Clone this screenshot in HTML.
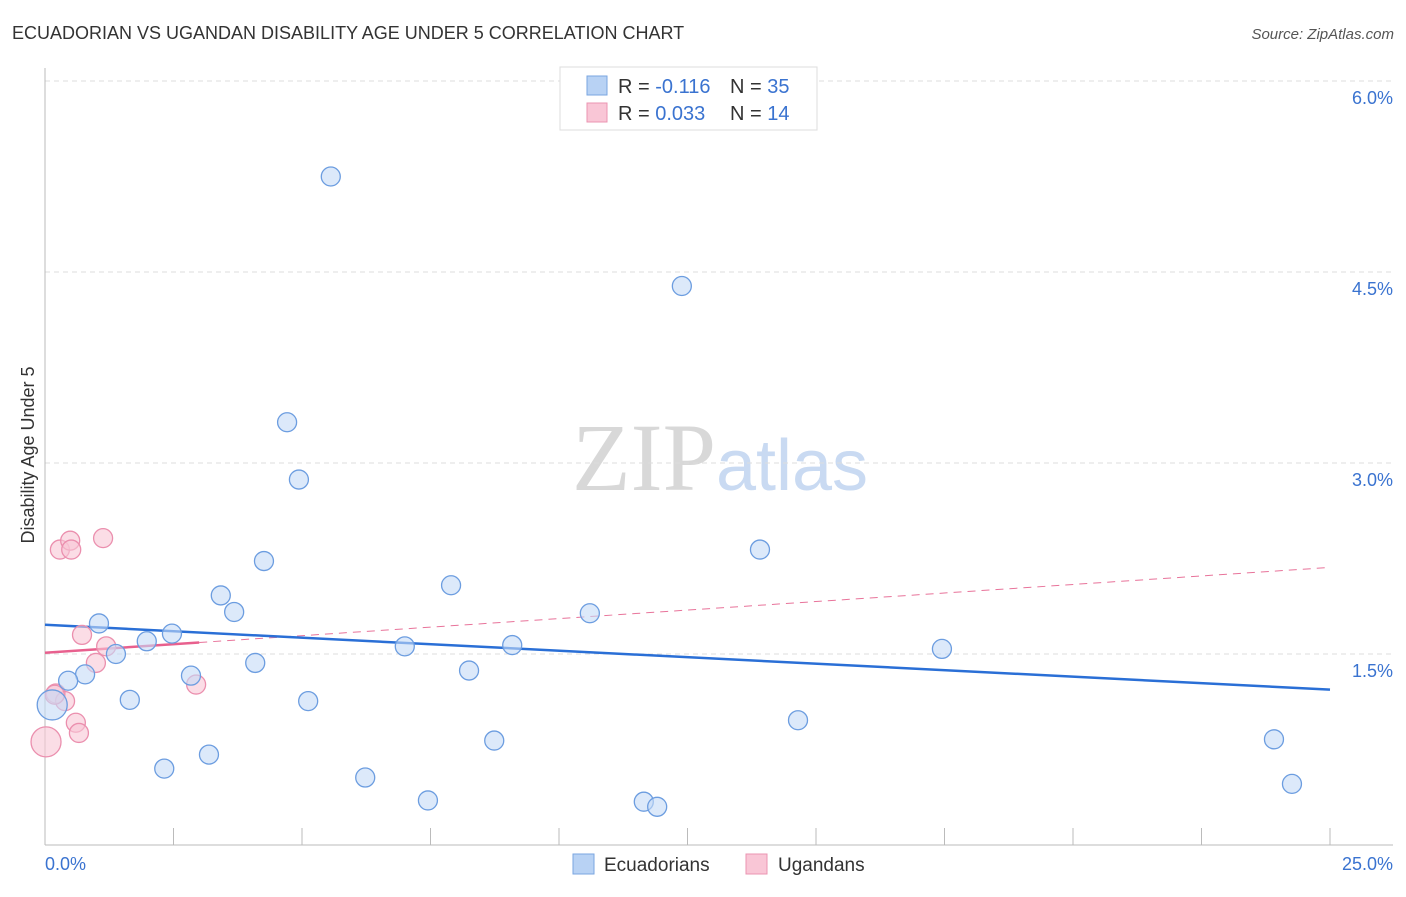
<!DOCTYPE html>
<html><head><meta charset="utf-8"><style>
body{margin:0;background:#fff;font-family:"Liberation Sans",sans-serif}
</style></head><body>
<svg id="chart" width="1406" height="892" xmlns="http://www.w3.org/2000/svg" font-family="Liberation Sans, sans-serif">
<text x="12" y="39" font-size="18" fill="#333">ECUADORIAN VS UGANDAN DISABILITY AGE UNDER 5 CORRELATION CHART</text>
<text x="1394" y="39" font-size="15" fill="#555" text-anchor="end" font-style="italic">Source: ZipAtlas.com</text>
<text x="720" y="490" font-size="96" text-anchor="middle"><tspan fill="#d8d8d8" font-family="Liberation Serif, serif">ZIP</tspan><tspan fill="#c9daf2" font-size="72">atlas</tspan></text>
<text transform="translate(34,455) rotate(-90)" font-size="18" fill="#333" text-anchor="middle">Disability Age Under 5</text>
<g id="grid"></g><g id="axes"></g><g id="lines"></g><g id="pts"></g>
<g>
<rect x="560" y="67" width="257" height="63" fill="#fff" stroke="#ddd"/>
<rect x="587" y="76" width="20" height="19" fill="#b8d2f4" stroke="#7aa6e0"/>
<rect x="587" y="103" width="20" height="19" fill="#f9c6d6" stroke="#eb94b2"/>
<text x="618" y="93" font-size="20" fill="#333">R = <tspan fill="#3a73d0">-0.116</tspan></text>
<text x="730" y="93" font-size="20" fill="#333">N = <tspan fill="#3a73d0">35</tspan></text>
<text x="618" y="120" font-size="20" fill="#333">R = <tspan fill="#3a73d0">0.033</tspan></text>
<text x="730" y="120" font-size="20" fill="#333">N = <tspan fill="#3a73d0"> 14</tspan></text>
</g>
<g>
<rect x="573" y="854" width="21" height="20" fill="#b8d2f4" stroke="#7aa6e0"/>
<text x="604" y="871" font-size="19" fill="#333">Ecuadorians</text>
<rect x="746" y="854" width="21" height="20" fill="#f9c6d6" stroke="#eb94b2"/>
<text x="778" y="871" font-size="19" fill="#333">Ugandans</text>
</g>
</svg>
<script>
const blueX=[5.56,12.39,4.71,4.94,13.91,4.26,7.90,3.42,3.68,10.60,1.05,2.47,1.98,7.00,9.09,1.38,17.45,4.09,8.25,0.78,2.84,0.45,1.65,5.12,0.14,14.65,8.74,23.91,3.19,2.32,6.23,7.45,11.65,11.91,24.26];
const blueY=[5.25,4.39,3.32,2.87,2.32,2.23,2.04,1.96,1.83,1.82,1.74,1.66,1.60,1.56,1.57,1.50,1.54,1.43,1.37,1.34,1.33,1.29,1.14,1.13,1.10,0.98,0.82,0.83,0.71,0.60,0.53,0.35,0.34,0.30,0.48];
const blueBig=[24];
const pinkX=[0.29,0.49,0.51,1.13,0.72,1.19,0.99,2.94,0.21,0.39,0.60,0.66,0.02,0.19];
const pinkY=[2.32,2.39,2.32,2.41,1.65,1.56,1.43,1.26,1.19,1.13,0.96,0.88,0.81,1.18];
const pinkBig=[12];
const blueTrend=[1.73,1.22];
const pinkTrend=[1.51,2.18];
const pinkSolidEnd=3.0;
const yTicks=[1.5,3.0,4.5,6.0];
const yTickLabels=["1.5%","3.0%","4.5%","6.0%"];
const xTicks=[0,2.5,5,7.5,10,12.5,15,17.5,20,22.5,25];
const xTickLabels=["0.0%","25.0%"];
const X0=45,X1=1330,Y0=845,YPX=191/1.5;
const sx=v=>X0+(v/25)*(X1-X0), sy=v=>Y0-v*YPX;
const NS="http://www.w3.org/2000/svg";
function mk(p,t,a){const e=document.createElementNS(NS,t);for(const k in a)e.setAttribute(k,a[k]);document.getElementById(p).appendChild(e);return e;}
yTicks.forEach((v,i)=>{
 const l=mk('grid','line',{x1:X0,x2:1393,y1:sy(v),y2:sy(v),stroke:'#ddd','stroke-dasharray':'5,4'});
 
 
 const t=mk('grid','text',{x:1393,y:sy(v)+23,'font-size':18,fill:'#3a73d0','text-anchor':'end'});t.textContent=yTickLabels[i];
 
 
});
let a=mk('axes','line',{x1:X0,x2:X0,y1:68,y2:Y0,stroke:'#bbb'});


a=mk('axes','line',{x1:X0,x2:1393,y1:Y0,y2:Y0,stroke:'#bbb'});


xTicks.forEach(v=>{const t=mk('axes','line',{x1:sx(v),x2:sx(v),y1:828,y2:Y0,stroke:'#bbb'});
 
 });
[[0,45,'start'],[25,1393,'end']].forEach((d,i)=>{const t=mk('axes','text',{x:d[1],y:870,'font-size':18,fill:'#3a73d0','text-anchor':d[2]});t.textContent=xTickLabels[i];
 
 });
function dots(xs,ys,big,fill,stroke,name){xs.forEach((x,i)=>{const r=big.includes(i)?15:9.5;
 const c=mk('pts','circle',{cx:sx(x),cy:sy(ys[i]),r:r,fill:fill,'fill-opacity':0.6,stroke:stroke,'stroke-width':1.3});
 
 });}
dots(pinkX,pinkY,pinkBig,'#f9c6d6','#eb8fae','ugandan-point');
dots(blueX,blueY,blueBig,'#c5dbf6','#6c9de0','ecuadorian-point');
const pAt=x=>pinkTrend[0]+(pinkTrend[1]-pinkTrend[0])*x/25;
let l=mk('lines','line',{x1:sx(pinkSolidEnd),y1:sy(pAt(pinkSolidEnd)),x2:sx(25),y2:sy(pinkTrend[1]),stroke:'#e8739a','stroke-width':1,'stroke-dasharray':'8,6'});


l=mk('lines','line',{x1:sx(0),y1:sy(pinkTrend[0]),x2:sx(pinkSolidEnd),y2:sy(pAt(pinkSolidEnd)),stroke:'#e8608e','stroke-width':2.5});


l=mk('lines','line',{x1:sx(0),y1:sy(blueTrend[0]),x2:sx(25),y2:sy(blueTrend[1]),stroke:'#2a6fd6','stroke-width':2.5});


</script>
</body></html>
